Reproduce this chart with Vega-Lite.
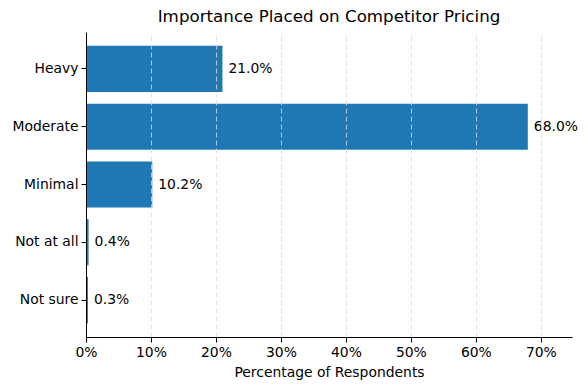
{
  "$schema": "https://vega.github.io/schema/vega-lite/v6.json",
  "autosize": {"type": "none"},
  "padding": {"left": 86, "top": 32, "right": 16, "bottom": 53},
  "width": 486,
  "height": 305,
  "background": "white",
  "title": {"text": "Importance Placed on Competitor Pricing", "font": "DejaVu Sans", "fontSize": 16.7, "fontWeight": "normal", "color": "black", "offset": 6},
  "data": {"values": [
    {"level": "Heavy", "pct": 0.21},
    {"level": "Moderate", "pct": 0.68},
    {"level": "Minimal", "pct": 0.102},
    {"level": "Not at all", "pct": 0.004},
    {"level": "Not sure", "pct": 0.003}
  ]},
  "config": {
    "view": {"stroke": null},
    "font": "DejaVu Sans"
  },
  "encoding": {
    "y": {"field": "level", "type": "nominal", "sort": null,
      "scale": {"paddingInner": 0.2, "paddingOuter": 0.24},
      "axis": {"title": null, "labelFont": "DejaVu Sans", "labelFontSize": 13.9, "labelColor": "black", "domainColor": "black", "domainWidth": 1, "tickColor": "black", "tickSize": 5, "labelPadding": 3, "grid": false, "zindex": 2}},
    "x": {"field": "pct", "type": "quantitative",
      "scale": {"domain": [0, 0.748], "nice": false, "zero": true},
      "axis": {"format": ".0%", "values": [0, 0.1, 0.2, 0.3, 0.4, 0.5, 0.6, 0.7], "title": "Percentage of Respondents", "titleFont": "DejaVu Sans", "titleFontSize": 13.9, "titleFontWeight": "normal", "titleColor": "black", "titlePadding": 7, "labelFont": "DejaVu Sans", "labelFontSize": 13.9, "labelColor": "black", "labelFlush": false, "labelOverlap": false, "domainColor": "black", "tickColor": "black", "tickSize": 5, "labelPadding": 3, "grid": true, "gridColor": "#d9d9d9", "gridDash": [5, 3], "gridWidth": 0.8, "gridOpacity": {"condition": {"test": "datum.value === 0", "value": 0}, "value": 1}, "zindex": 1}}
  },
  "layer": [
    {"mark": {"type": "bar", "color": "#1f77b4"}},
    {"mark": {"type": "text", "align": "left", "baseline": "middle", "dx": 6, "fontSize": 13.9, "font": "DejaVu Sans", "color": "black"},
     "encoding": {"text": {"field": "pct", "type": "quantitative", "format": ".1%"}}}
  ]
}
